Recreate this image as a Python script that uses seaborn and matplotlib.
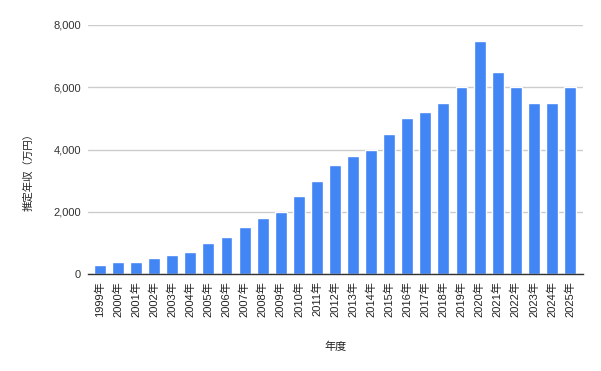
import seaborn as sns
import matplotlib.pyplot as plt
import pandas as pd

# fiscal years and estimated annual income (10k yen)
years = ['1999年', '2000年', '2001年', '2002年', '2003年', '2004年', '2005年', '2006年', '2007年',
         '2008年', '2009年', '2010年', '2011年', '2012年', '2013年', '2014年', '2015年', '2016年',
         '2017年', '2018年', '2019年', '2020年', '2021年', '2022年', '2023年', '2024年', '2025年']
income = [300, 400, 400, 500, 600, 700, 1000, 1200, 1500, 1800, 2000, 2500, 3000, 3500, 3800,
          4000, 4500, 5000, 5200, 5500, 6000, 7500, 6500, 6000, 5500, 5500, 6000]
y_ticks = [0, 2000, 4000, 6000, 8000]

df = pd.DataFrame({'年度': years, '推定年収（万円）': income})

sns.set_style('white')
plt.rcParams['font.family'] = ['Liberation Sans', 'Noto Sans CJK JP', 'DejaVu Sans']

fig = plt.figure(figsize=(6.01, 3.71), dpi=100)
ax = fig.add_axes([88 / 601, 97 / 371, 495 / 601, 249 / 371])

sns.barplot(x='年度', y='推定年収（万円）', data=df, color='#4285F4', saturation=1,
            width=0.66, ax=ax, zorder=3)

ax.set_ylim(0, 8000)
ax.set_xlim(-0.66, 26.72)
ax.set_yticks(y_ticks)
ax.set_yticklabels([f'{v:,}' for v in y_ticks], fontsize=8, color='#333333')
ax.yaxis.grid(True, color='#cccccc', linewidth=1, zorder=0)
ax.tick_params(axis='both', length=0, pad=5)
plt.setp(ax.get_xticklabels(), rotation=90, fontsize=8, color='#222222')

for side in ['top', 'right', 'left']:
    ax.spines[side].set_visible(False)
ax.spines['bottom'].set_color('#333333')
ax.spines['bottom'].set_linewidth(1)
ax.spines['bottom'].set_zorder(4)

ax.set_xlabel('年度', fontsize=8, color='#222222', labelpad=18)
ax.set_ylabel('推定年収（万円）', fontsize=7.5, color='#222222')
# label sits a little below the axis middle, as in the original
ax.yaxis.set_label_coords(-0.111, 0.418)

fig.savefig('out.png', dpi=100)
